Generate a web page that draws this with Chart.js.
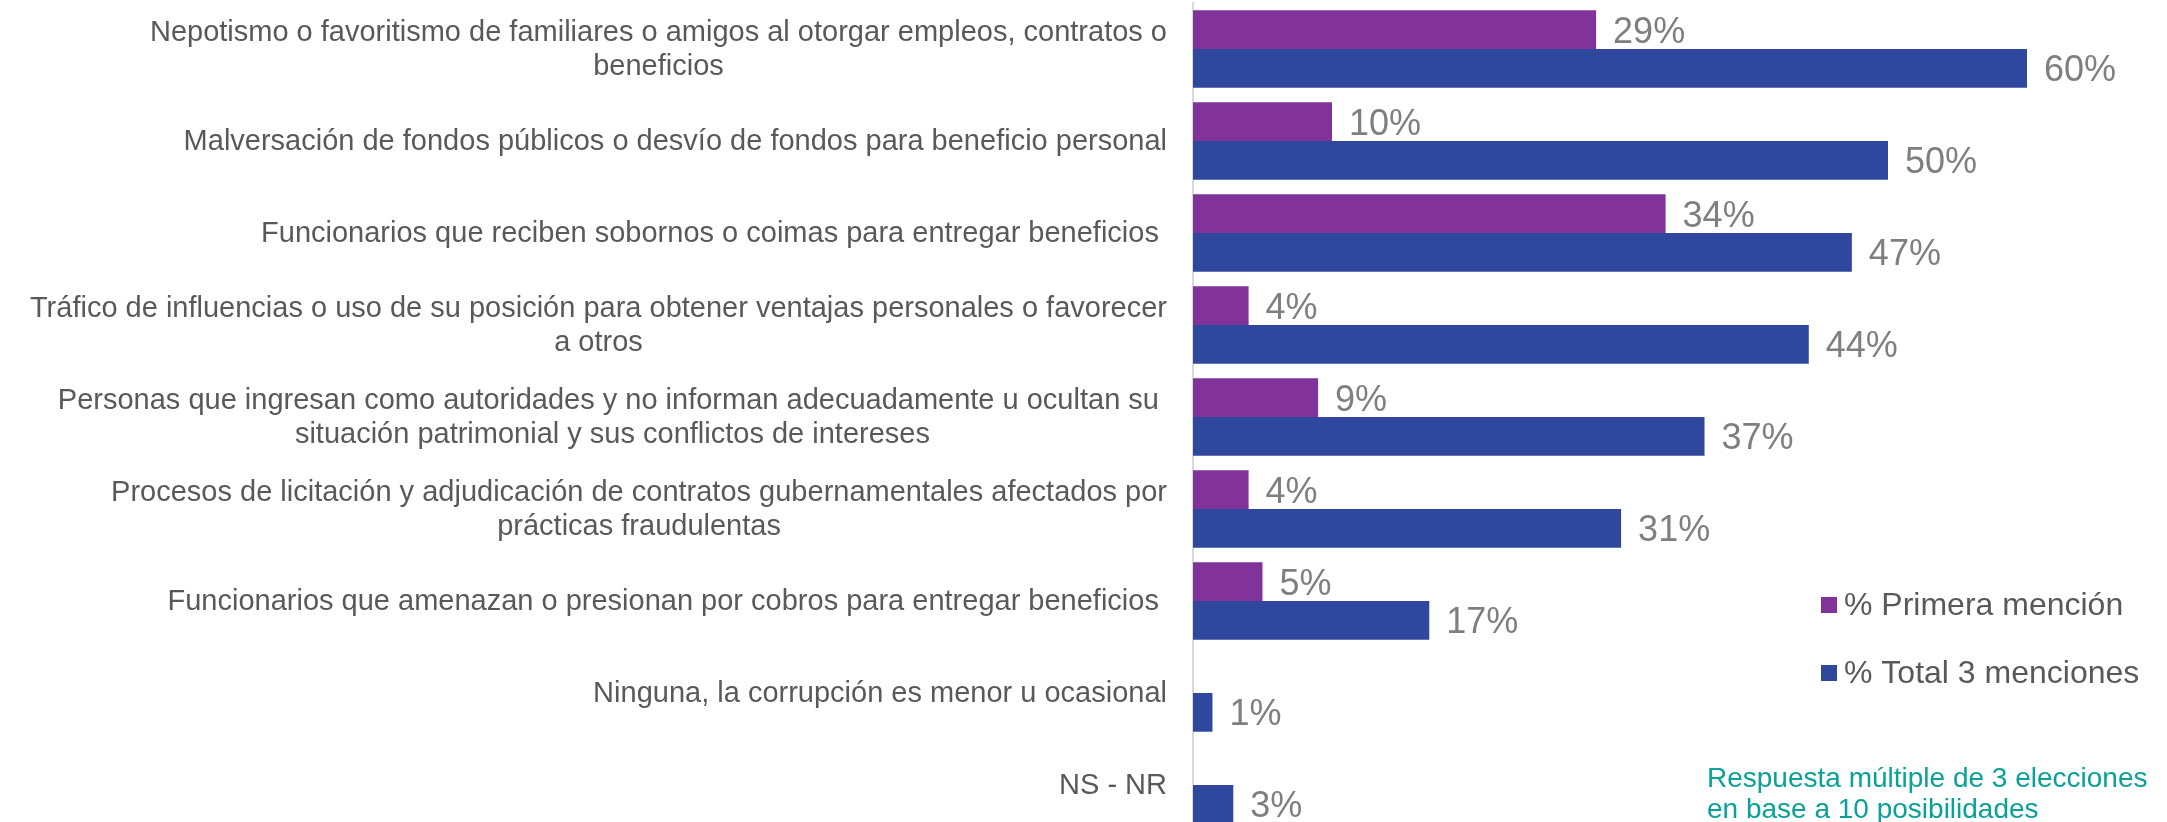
<!DOCTYPE html>
<html lang="es">
<head>
    <meta charset="UTF-8">
    <title>Tipos de corrupción</title>
    <script src="https://cdn.jsdelivr.net/npm/chart.js"></script>
    <style>
        html, body { margin: 0; padding: 0; background: #fff; overflow: hidden; }
        #wrap { position: relative; width: 2167px; height: 831px; }
    </style>
</head>
<body>
    <div id="wrap"><canvas id="chart"></canvas></div>
    <script>
        // categories (lines already broken like the original)
        const categories = [
            ['Nepotismo o favoritismo de familiares o amigos al otorgar empleos, contratos o', 'beneficios'],
            'Malversación de fondos públicos o desvío de fondos para beneficio personal',
            'Funcionarios que reciben sobornos o coimas para entregar beneficios ',
            ['Tráfico de influencias o uso de su posición para obtener ventajas personales o favorecer', 'a otros'],
            ['Personas que ingresan como autoridades y no informan adecuadamente u ocultan su ', 'situación patrimonial y sus conflictos de intereses'],
            ['Procesos de licitación y adjudicación de contratos gubernamentales afectados por', 'prácticas fraudulentas'],
            'Funcionarios que amenazan o presionan por cobros para entregar beneficios ',
            'Ninguna, la corrupción es menor u ocasional',
            'NS - NR'
        ];
        // values (labels show them rounded)
        const primeraMencion = [29, 10, 34, 4, 9, 4, 5, null, null];
        const totalMenciones = [60, 50, 47.4, 44.3, 36.8, 30.8, 17, 1.4, 2.9];
        const seriesNames = ['% Primera mención', '% Total 3 menciones'];
        const note = ['Respuesta múltiple de 3 elecciones', 'en base a 10 posibilidades'];

        const PURPLE = '#82339A';
        const BLUE = '#2F479C';
        const FONT = '"Liberation Sans", Arial, sans-serif';

        // category labels, long lines right aligned, short lines centred under them
        const categoryLabels = {
            id: 'categoryLabels',
            afterDraw(chart) {
                const ctx = chart.ctx;
                const y = chart.scales.y;
                ctx.save();
                ctx.font = '29px ' + FONT;
                ctx.fillStyle = '#595959';
                ctx.textAlign = 'right';
                ctx.textBaseline = 'middle';
                const right = y.right - 26;
                categories.forEach((lab, i) => {
                    const lines = Array.isArray(lab) ? lab : [lab];
                    const widths = lines.map(l => ctx.measureText(l).width);
                    const maxW = Math.max(...widths);
                    const cy = y.getPixelForTick(i);
                    lines.forEach((l, k) => {
                        const x = right - (maxW - widths[k]) / 2;
                        ctx.fillText(l, x, cy + (k - (lines.length - 1) / 2) * 34 + 1);
                    });
                });
                ctx.restore();
            }
        };

        // value labels at the end of each bar
        const valueLabels = {
            id: 'valueLabels',
            afterDatasetsDraw(chart) {
                const ctx = chart.ctx;
                ctx.save();
                ctx.font = '36px ' + FONT;
                ctx.fillStyle = '#7F7F7F';
                ctx.textAlign = 'left';
                ctx.textBaseline = 'middle';
                chart.data.datasets.forEach((ds, i) => {
                    chart.getDatasetMeta(i).data.forEach((bar, j) => {
                        const v = ds.data[j];
                        if (v === null) return;
                        ctx.fillText(Math.round(v) + '%', bar.x + 17, bar.y + 3);
                    });
                });
                ctx.restore();
            }
        };

        // legend and note in the lower right corner
        const legendNote = {
            id: 'legendNote',
            afterDraw(chart) {
                const ctx = chart.ctx;
                ctx.save();
                ctx.textAlign = 'left';
                ctx.textBaseline = 'alphabetic';
                ctx.font = '32px ' + FONT;
                [PURPLE, BLUE].forEach((c, i) => {
                    ctx.fillStyle = c;
                    ctx.fillRect(1821, 597 + i * 68, 16, 16);
                    ctx.fillStyle = '#595959';
                    ctx.fillText(seriesNames[i], 1844, 615 + i * 68);
                });
                ctx.font = '28px ' + FONT;
                ctx.fillStyle = '#0AA198';
                note.forEach((l, i) => ctx.fillText(l, 1707, 787 + i * 31));
                ctx.restore();
            }
        };

        new Chart(document.getElementById('chart'), {
            type: 'bar',
            data: {
                labels: categories,
                datasets: [
                    { label: seriesNames[0], data: primeraMencion, backgroundColor: PURPLE },
                    { label: seriesNames[1], data: totalMenciones, backgroundColor: BLUE }
                ]
            },
            options: {
                indexAxis: 'y',
                responsive: true,
                maintainAspectRatio: false,
                animation: false,
                layout: { padding: { top: 3, right: 1, bottom: 0, left: 0 } },
                plugins: { legend: { display: false }, tooltip: { enabled: false } },
                datasets: { bar: { categoryPercentage: 0.842, barPercentage: 1.0 } },
                scales: {
                    x: { display: false, min: 0, max: 70 },
                    y: {
                        grid: { display: false },
                        border: { display: true, color: '#D9D9D9', width: 2 },
                        ticks: { display: false },
                        afterFit(scale) { scale.width = 1193; }
                    }
                }
            },
            plugins: [categoryLabels, valueLabels, legendNote]
        });
    </script>
</body>
</html>
